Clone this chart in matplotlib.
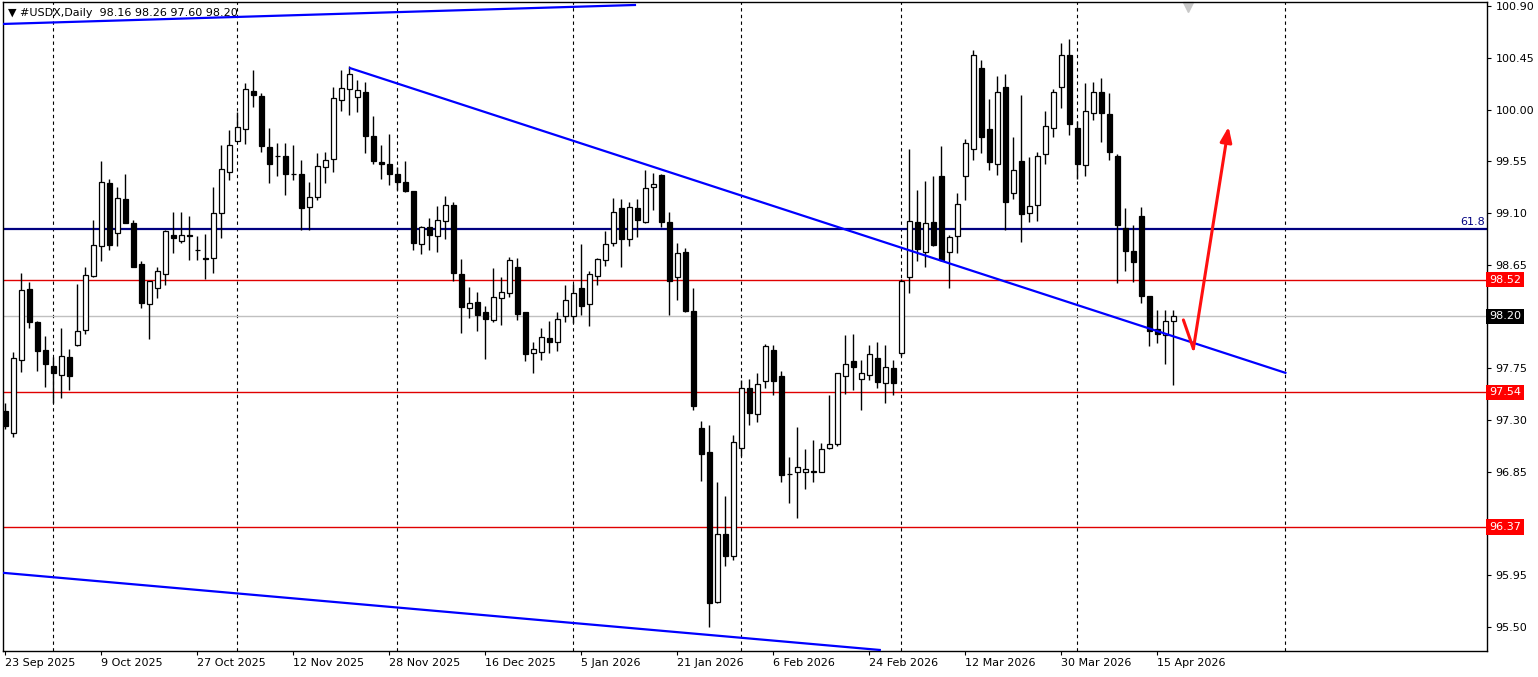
import matplotlib
matplotlib.use("Agg")
import matplotlib.pyplot as plt
import matplotlib.transforms as mtransforms
import numpy as np

# daily candles, bar 0 = 23 Sep 2025 ... bar 146 = 17 Apr 2026
opens = [97.38, 97.19, 97.82, 98.44, 98.15, 97.91, 97.77, 97.69, 97.85, 97.95,
         98.08, 98.55, 98.81, 99.36, 98.93, 99.22, 99.01, 98.66, 98.31, 98.45,
         98.57, 98.91, 98.86, 98.91, 98.78, 98.71, 98.71, 99.10, 99.46, 99.73,
         99.83, 100.16, 100.12, 99.67, 99.60, 99.60, 99.44, 99.44, 99.15, 99.24,
         99.50, 99.57, 100.08, 100.18, 100.11, 100.15, 99.77, 99.54, 99.53, 99.44,
         99.37, 99.29, 98.83, 98.98, 98.90, 99.03, 99.17, 98.57, 98.27, 98.33,
         98.24, 98.17, 98.36, 98.40, 98.63, 98.24, 97.88, 97.89, 98.01, 97.98,
         98.20, 98.20, 98.45, 98.31, 98.55, 98.69, 98.84, 99.14, 98.87, 99.14,
         99.02, 99.33, 99.43, 99.02, 98.54, 98.76, 98.25, 97.23, 97.02, 95.72,
         96.31, 96.12, 97.06, 97.58, 97.35, 97.64, 97.91, 97.68, 96.83, 96.85,
         96.85, 96.86, 96.85, 97.06, 97.09, 97.68, 97.81, 97.66, 97.69, 97.84,
         97.62, 97.75, 97.88, 98.54, 99.02, 98.76, 99.02, 99.42, 98.76, 98.90,
         99.42, 99.66, 100.36, 99.83, 99.53, 100.20, 99.27, 99.55, 99.10, 99.17,
         99.61, 99.84, 100.20, 100.47, 99.84, 99.52, 99.97, 100.15, 99.96, 99.60,
         98.97, 98.77, 99.07, 98.38, 98.09, 98.04, 98.16]
highs = [97.45, 97.89, 98.58, 98.50, 98.16, 98.03, 97.85, 98.10, 97.92, 98.48,
         98.63, 99.04, 99.55, 99.40, 99.33, 99.44, 99.04, 98.68, 98.51, 98.63,
         98.95, 99.11, 99.11, 99.07, 98.90, 98.92, 99.33, 99.69, 99.82, 99.98,
         100.23, 100.34, 100.14, 99.84, 99.71, 99.71, 99.69, 99.56, 99.37, 99.62,
         99.63, 100.20, 100.34, 100.38, 100.26, 100.24, 99.94, 99.69, 99.79, 99.50,
         99.55, 99.29, 98.99, 99.06, 99.16, 99.25, 99.20, 98.70, 98.46, 98.41,
         98.29, 98.62, 98.54, 98.72, 98.71, 98.24, 97.98, 98.10, 98.16, 98.24,
         98.47, 98.48, 98.83, 98.60, 98.71, 98.94, 99.23, 99.22, 99.20, 99.22,
         99.47, 99.45, 99.44, 99.11, 98.84, 98.80, 98.45, 97.29, 97.26, 96.76,
         96.64, 97.17, 97.65, 97.66, 97.71, 97.96, 97.95, 97.73, 96.98, 97.24,
         97.05, 97.13, 97.10, 97.52, 97.71, 98.04, 98.05, 97.82, 97.95, 97.98,
         97.95, 97.82, 98.53, 99.66, 99.30, 99.38, 99.42, 99.68, 98.91, 99.27,
         99.74, 100.52, 100.43, 100.09, 100.29, 100.31, 99.76, 100.13, 99.59, 99.63,
         99.99, 100.18, 100.58, 100.61, 99.90, 100.23, 100.24, 100.27, 100.14, 99.61,
         99.14, 99.00, 99.15, 98.38, 98.26, 98.26, 98.26]
lows = [97.22, 97.155, 97.72, 98.10, 97.73, 97.59, 97.45, 97.49, 97.56, 97.94,
        98.05, 98.54, 98.68, 98.78, 98.81, 99.01, 98.63, 98.27, 98.00, 98.36,
        98.47, 98.75, 98.84, 98.69, 98.69, 98.53, 98.58, 98.88, 99.39, 99.73,
        99.70, 100.02, 99.63, 99.36, 99.42, 99.26, 99.39, 98.95, 98.95, 99.21,
        99.36, 99.46, 99.99, 99.95, 99.98, 99.62, 99.53, 99.40, 99.34, 99.30,
        99.28, 98.78, 98.74, 98.78, 98.76, 98.87, 98.51, 98.06, 98.19, 98.07,
        97.83, 98.15, 98.13, 98.37, 98.17, 97.81, 97.71, 97.82, 97.88, 97.90,
        98.15, 98.14, 98.21, 98.12, 98.47, 98.64, 98.81, 98.63, 98.81, 98.89,
        99.01, 99.13, 98.98, 98.21, 98.34, 98.24, 97.39, 96.77, 95.50, 95.71,
        96.03, 96.08, 96.99, 97.26, 97.28, 97.58, 97.52, 96.76, 96.58, 96.45,
        96.70, 96.76, 96.85, 97.05, 97.07, 97.53, 97.56, 97.39, 97.65, 97.58,
        97.45, 97.52, 97.86, 98.40, 98.68, 98.63, 98.81, 98.68, 98.45, 98.75,
        99.21, 99.56, 99.62, 99.47, 99.43, 98.95, 99.22, 98.85, 99.02, 99.03,
        99.53, 99.76, 100.01, 99.78, 99.40, 99.42, 99.91, 99.72, 99.56, 98.49,
        98.60, 98.50, 98.32, 97.94, 97.97, 97.79, 97.60]
closes = [97.25, 97.84, 98.43, 98.15, 97.90, 97.79, 97.71, 97.86, 97.68, 98.07,
          98.56, 98.82, 99.37, 98.82, 99.23, 99.01, 98.63, 98.32, 98.51, 98.60,
          98.94, 98.88, 98.91, 98.90, 98.78, 98.70, 99.10, 99.48, 99.69, 99.85,
          100.18, 100.13, 99.68, 99.53, 99.60, 99.44, 99.44, 99.14, 99.24, 99.51,
          99.56, 100.10, 100.19, 100.31, 100.17, 99.77, 99.55, 99.53, 99.44, 99.37,
          99.29, 98.84, 98.98, 98.91, 99.04, 99.17, 98.58, 98.28, 98.32, 98.21,
          98.18, 98.37, 98.41, 98.69, 98.22, 97.87, 97.92, 98.02, 97.98, 98.18,
          98.34, 98.40, 98.29, 98.57, 98.70, 98.83, 99.11, 98.87, 99.15, 99.04,
          99.32, 99.35, 99.02, 98.51, 98.75, 98.25, 97.42, 97.00, 95.71, 96.31,
          96.12, 97.11, 97.58, 97.36, 97.61, 97.94, 97.64, 96.82, 96.83, 96.89,
          96.87, 96.85, 97.05, 97.09, 97.71, 97.79, 97.76, 97.71, 97.87, 97.63,
          97.76, 97.62, 98.51, 99.03, 98.79, 99.01, 98.82, 98.69, 98.89, 99.18,
          99.71, 100.47, 99.76, 99.54, 100.15, 99.20, 99.47, 99.09, 99.16, 99.60,
          99.86, 100.15, 100.47, 99.87, 99.53, 99.99, 100.15, 99.97, 99.63, 99.00,
          98.77, 98.67, 98.38, 98.07, 98.05, 98.16, 98.20]

date_bars = [0, 12, 24, 36, 48, 60, 72, 84, 96, 108, 120, 132, 144]
date_labels = ["23 Sep 2025", "9 Oct 2025", "27 Oct 2025", "12 Nov 2025", "28 Nov 2025",
               "16 Dec 2025", "5 Jan 2026", "21 Jan 2026", "6 Feb 2026", "24 Feb 2026",
               "12 Mar 2026", "30 Mar 2026", "15 Apr 2026"]
month_bars = [6, 29, 49, 71, 92, 112, 134, 160]
price_ticks = [95.50, 95.95, 96.40, 96.85, 97.30, 97.75, 98.20, 98.65, 99.10,
               99.55, 100.00, 100.45, 100.90]

support_levels = [98.52, 97.54, 96.37]
fib_level = 98.96
bid = 98.20

# drawn lines (bar, price)
trend_x, trend_y = [43.1, 160.0], [100.36, 97.71]
upper_x, upper_y = [-0.3, 78.7], [100.744, 100.909]
lower_x, lower_y = [-0.3, 109.3], [95.971, 95.30]
arrow_x, arrow_y = [147.25, 148.5, 152.9], [98.17, 97.92, 99.85]

W, H = 1538, 677
fig = plt.figure(figsize=(W / 100, H / 100), dpi=100)
fig.patch.set_facecolor("white")
ax = fig.add_axes([3 / W, 26 / H, 1484 / W, 649 / H])
ax.set_xlim(-0.29, 185.2)
ax.set_ylim(95.291, 100.935)

n = len(opens)
x = np.arange(n)
o = np.array(opens)
c = np.array(closes)

ax.vlines(x, lows, highs, color="black", lw=1, zorder=3)
up = c >= o
bottoms = np.minimum(o, c)
heights = np.abs(c - o)
ax.bar(x[up], heights[up], bottom=bottoms[up], width=0.55, facecolor="white",
       edgecolor="black", linewidth=0.9, zorder=4)
ax.bar(x[~up], heights[~up], bottom=bottoms[~up], width=0.55, facecolor="black",
       edgecolor="black", linewidth=0.9, zorder=4)

for b in month_bars:
    ax.axvline(b, color="black", lw=0.8, linestyle=(0, (3, 3)), zorder=1)

for lvl in support_levels:
    ax.axhline(lvl, color="#e00000", lw=1, zorder=2)
ax.axhline(bid, color="#c0c0c0", lw=1, zorder=2)
ax.axhline(fib_level, color="#000080", lw=1.6, zorder=2)
trans = mtransforms.blended_transform_factory(ax.transAxes, ax.transData)
ax.text(1.0 - 2 / 1484, fib_level + 0.02, "61.8", transform=trans,
        ha="right", va="bottom", fontsize=8, color="#000080")

ax.plot(trend_x, trend_y, color="#0000ff", lw=1.6, zorder=5)
ax.plot(upper_x, upper_y, color="#0000ff", lw=1.6, zorder=5)
ax.plot(lower_x, lower_y, color="#0000ff", lw=1.6, zorder=5)

ax.plot(arrow_x[:2], arrow_y[:2], color="#ff1010", lw=2.2, zorder=6, solid_capstyle="round")
ax.annotate("", xy=(arrow_x[2], arrow_y[2]), xytext=(arrow_x[1], arrow_y[1]),
            arrowprops=dict(arrowstyle="-|>,head_length=0.9,head_width=0.35", color="#ff1010",
                            lw=2.2, shrinkA=0, shrinkB=0), zorder=6)

# axes styling; tick labels hidden behind the price boxes are left blank
hidden = [bid, 96.40]
ax.yaxis.tick_right()
ax.set_yticks(price_ticks)
ax.set_yticklabels(["" if p in hidden else f"{p:.2f}" for p in price_ticks], fontsize=8)
ax.tick_params(axis="y", length=3, width=0.8, pad=3)
ax.set_xticks(date_bars)
ax.set_xticklabels(date_labels, fontsize=8, ha="left")
ax.tick_params(axis="x", length=3, width=0.8, pad=2)
for s in ax.spines.values():
    s.set_linewidth(1)

for lvl in support_levels:
    ax.text(1.0015, lvl, f"{lvl:.2f}", transform=trans, ha="left", va="center", fontsize=8,
            color="white", clip_on=False, zorder=10,
            bbox=dict(boxstyle="square,pad=0.25", fc="#ff0000", ec="none"))
ax.text(1.0015, bid, f"{bid:.2f}", transform=trans, ha="left", va="center", fontsize=8,
        color="white", clip_on=False, zorder=10,
        bbox=dict(boxstyle="square,pad=0.25", fc="black", ec="none"))

fig.text(8 / W, 1 - 13 / H, "\u25bc #USDX,Daily  98.16 98.26 97.60 98.20", fontsize=8,
         va="center", ha="left")
ax.plot([147.8], [1 - 5 / 649], marker="v", markersize=7, color="#c8c8c8",
        transform=mtransforms.blended_transform_factory(ax.transData, ax.transAxes), clip_on=False)

fig.savefig("out.png", dpi=100, facecolor="white")
